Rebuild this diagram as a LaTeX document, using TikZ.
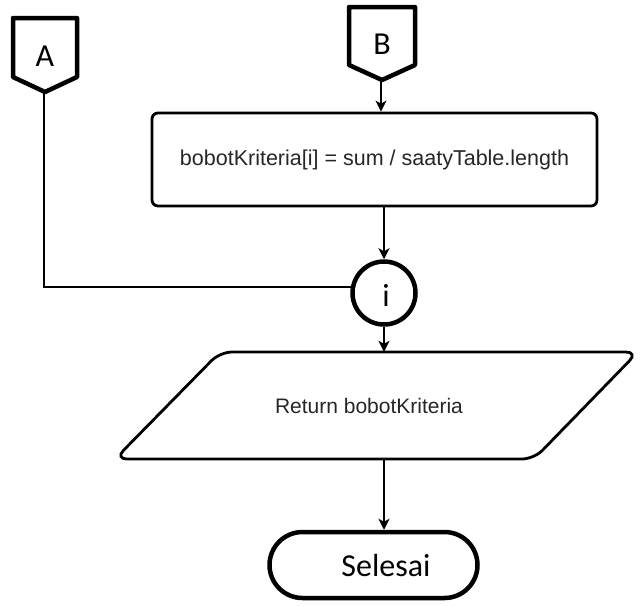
\documentclass[tikz,border=0pt]{standalone}
\usepackage{fontspec}
\setmainfont{Liberation Sans}
\newfontfamily\calibri{Carlito}
\usetikzlibrary{arrows.meta}
\begin{document}
\begin{tikzpicture}[x=1pt,y=-1pt,
  heavy/.style={line width=4.5pt, line join=round},
  procbox/.style={draw, line width=2.8pt, rounded corners=6pt, minimum width=445pt,
    minimum height=93pt, inner sep=0pt, font=\fontsize{21.5}{25}\selectfont, text=black!85},
  iobox/.style={line width=2.8pt, rounded corners=12pt},
  iolabel/.style={minimum width=300pt, minimum height=107pt, inner sep=0pt,
    font=\fontsize{21}{25}\selectfont, text=black!85},
  joint/.style={draw, circle, heavy, minimum size=63pt, inner sep=0pt},
  terminal/.style={draw, heavy, rounded corners=33pt, minimum width=208pt, minimum height=66pt},
  bigtext/.style={font=\calibri\fontsize{32}{38}\selectfont, inner sep=0pt},
  flow/.style={line width=1.5pt, -{Stealth[length=11pt,width=11pt,inset=3pt]}},
  plainline/.style={line width=1.5pt},
]
\useasboundingbox (0,0) rectangle (642,606);

% off-page connector A
\draw[heavy] (13,18) -- (77,18) -- (77,77) -- (45,92) -- (13,77) -- cycle;
\node[bigtext] (A) at (45,56) {A};
\coordinate (Atip) at (44,92);

% off-page connector B
\draw[heavy] (349,7) -- (415,7) -- (415,65) -- (382,80) -- (349,65) -- cycle;
\node[bigtext] (B) at (382,44) {B};
\coordinate (Btip) at (381,80);

% process box
\node[procbox] (box) at (374.5,159.5) {bobotKriteria[i] = sum / saatyTable.length};

% loop joint
\node[joint] (ci) at (384,293) {};
\node[bigtext] (ilabel) at (386,295) {i};

% output parallelogram
\draw[iobox] (220,352) -- (638,352) -- (534,459) -- (115,459) -- cycle;
\node[iolabel] (ret) at (369,405.5) {Return bobotKriteria};

% end terminal
\node[terminal] (end) at (373.5,565) {};
\node[bigtext] (endtext) at (386,565) {Selesai};

% connectors
\draw[flow] (Btip) -- (Btip |- box.north);
\draw[flow] (ci |- box.south) -- (ci.north);
\draw[plainline] (Atip) |- (ci.170);
\draw[flow] (ci.south) -- (ci.south |- ret.north);
\draw[flow] (ci |- ret.south) -- (ci |- end.north);
\end{tikzpicture}
\end{document}
